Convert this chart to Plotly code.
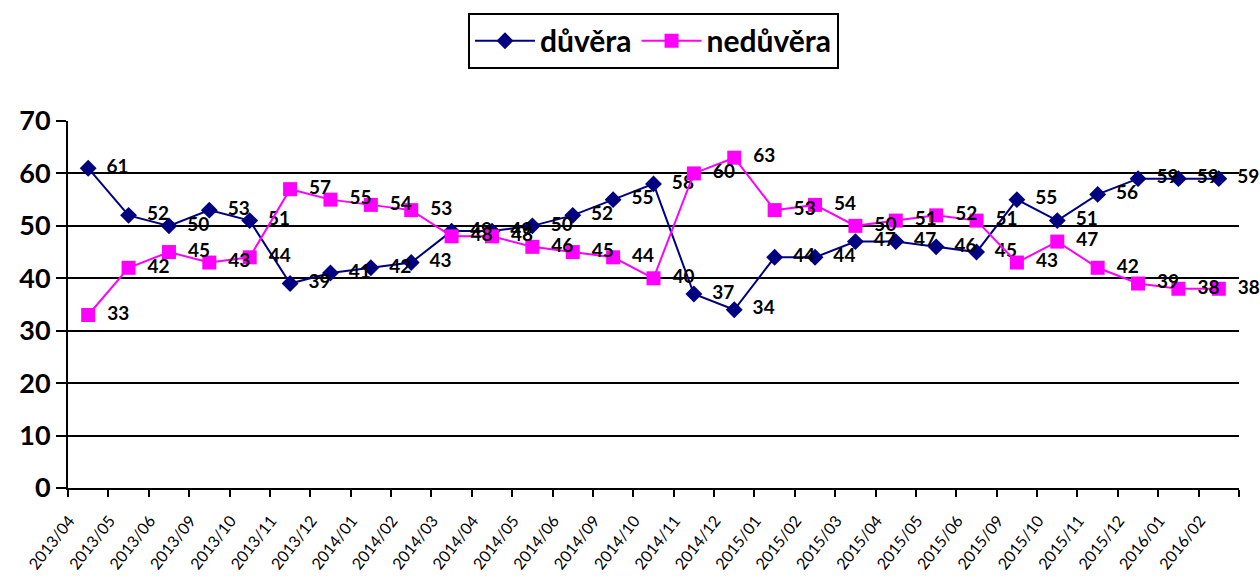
import plotly.graph_objects as go

categories = ["2013/04", "2013/05", "2013/06", "2013/09", "2013/10", "2013/11", "2013/12",
              "2014/01", "2014/02", "2014/03", "2014/04", "2014/05", "2014/06", "2014/09",
              "2014/10", "2014/11", "2014/12", "2015/01", "2015/02", "2015/03", "2015/04",
              "2015/05", "2015/06", "2015/09", "2015/10", "2015/11", "2015/12", "2016/01",
              "2016/02"]
duvera = [61, 52, 50, 53, 51, 39, 41, 42, 43, 49, 49, 50, 52, 55, 58, 37, 34, 44, 44,
          47, 47, 46, 45, 55, 51, 56, 59, 59, 59]
neduvera = [33, 42, 45, 43, 44, 57, 55, 54, 53, 48, 48, 46, 45, 44, 40, 60, 63, 53, 54,
            50, 51, 52, 51, 43, 47, 42, 39, 38, 38]
y_ticks = [0, 10, 20, 30, 40, 50, 60, 70]

FONT = "Lato"
fig = go.Figure()
fig.add_trace(go.Scatter(
    x=categories, y=duvera, name="důvěra", mode="lines+markers+text",
    text=["  " + str(v) for v in duvera], textposition="middle right",
    textfont=dict(family=FONT, size=19, color="black", weight="bold"),
    line=dict(color="#000080", width=2),
    marker=dict(symbol="diamond", size=13, color="#000080"),
    cliponaxis=False,
))
fig.add_trace(go.Scatter(
    x=categories, y=neduvera, name="nedůvěra", mode="lines+markers+text",
    text=["  " + str(v) for v in neduvera], textposition="middle right",
    textfont=dict(family=FONT, size=19, color="black", weight="bold"),
    line=dict(color="#FF00FF", width=2),
    marker=dict(symbol="square", size=14, color="#FF00FF"),
    cliponaxis=False,
))

fig.update_layout(
    width=1260, height=581,
    paper_bgcolor="white", plot_bgcolor="white",
    margin=dict(l=68, r=21, t=121, b=93),
    font=dict(family=FONT, color="black"),
    legend=dict(
        orientation="h", x=0.5, xanchor="center", y=0.978, yref="container", yanchor="top",
        bordercolor="black", borderwidth=2, bgcolor="white",
        font=dict(family=FONT, size=30, color="black", weight="bold"),
        itemwidth=60,
    ),
)
fig.update_xaxes(
    type="category", range=[-0.5, len(categories) - 0.5], automargin=False,
    showgrid=False, showline=True, linecolor="black", linewidth=2,
    ticks="outside", tickson="boundaries", ticklen=7, tickwidth=2, tickcolor="black",
    tickangle=-52, tickfont=dict(family=FONT, size=16, color="black"),
    ticklabelshift=-19, ticklabelstandoff=15,
)
fig.update_yaxes(
    range=[0, 70], tickvals=y_ticks, automargin=False,
    showgrid=True, gridcolor="black", gridwidth=2,
    showline=True, linecolor="black", linewidth=2,
    ticks="outside", ticklen=10, tickwidth=2, tickcolor="black",
    tickfont=dict(family=FONT, size=27, color="black", weight="bold"),
    zeroline=False,
)

fig.write_html("out.html", config={"displayModeBar": False},
               post_script="document.body.style.margin='0';")
